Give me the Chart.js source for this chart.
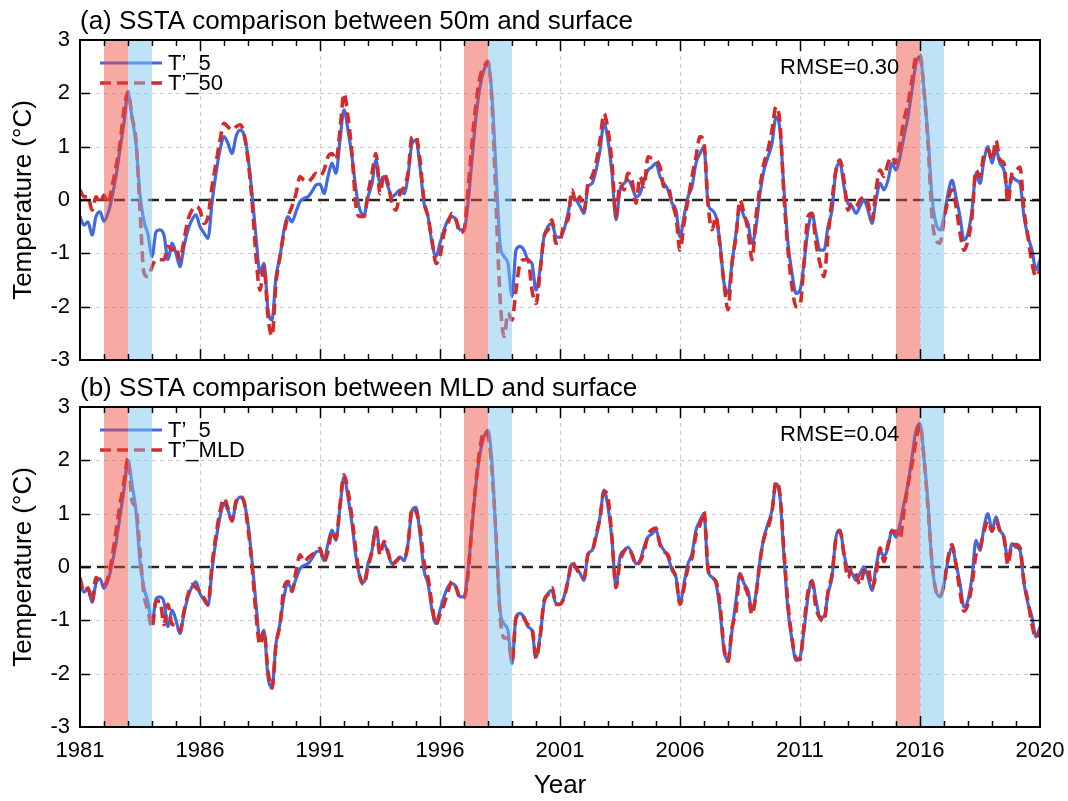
<!DOCTYPE html>
<html><head><meta charset="utf-8">
<script src="https://cdn.jsdelivr.net/npm/chart.js@4.4.0/dist/chart.umd.min.js"></script>
<style>
html,body{margin:0;padding:0;background:#fff;}
#wrap{position:relative;width:1068px;height:801px;overflow:hidden;background:#fff;}
.pane{position:absolute;left:0;width:1068px;}
</style></head><body>
<div id="wrap">
<div class="pane" style="top:0;height:375px"><canvas id="ca" width="1068" height="375"></canvas></div>
<div class="pane" style="top:375px;height:426px"><canvas id="cb" width="1068" height="426"></canvas></div>
</div>
<script>
// ---------------- data ----------------
const startYear = 1981;
const stepsPerYear = 6;           // bimonthly samples
const xMin = 1981, xMax = 2021;
const xTickValues = [1981, 1986, 1991, 1996, 2001, 2006, 2011, 2016, 2021];
const xTickLabels = ['1981', '1986', '1991', '1996', '2001', '2006', '2011', '2016', '2020'];
const yTickValues = [-3, -2, -1, 0, 1, 2, 3];
const yTickLabels = ['-3', '-2', '-1', '0', '1', '2', '3'];
const warmSpans = [[1982, 1983], [1997, 1998], [2015, 2016]];
const coolSpans = [[1983, 1984], [1998, 1999], [2016, 2017]];
const seriesLabels = ['T\u2019_5', 'T\u2019_50', 'T\u2019_MLD'];
const panelTitles = ['(a) SSTA comparison between 50m and surface', '(b) SSTA comparison between MLD and surface'];
const rmseTexts = ['RMSE=0.30', 'RMSE=0.04'];

const t5 = [
-0.31,-0.47,-0.41,-0.66,-0.31,-0.22,
-0.40,-0.25,0.05,0.45,0.95,1.45,
2.00,1.55,1.05,0.10,-0.40,-0.65,
-1.06,-0.60,-0.56,-0.66,-1.12,-0.81,
-1.00,-1.25,-0.87,-0.56,-0.37,-0.28,
-0.50,-0.62,-0.72,-0.06,0.50,0.94,
1.19,1.06,0.87,1.19,1.31,1.22,
0.81,0.12,-0.69,-1.37,-1.19,-2.06,
-2.25,-1.44,-1.06,-0.56,-0.31,-0.41,
-0.22,-0.03,0.03,0.06,0.16,0.28,
0.30,0.12,0.44,0.69,0.50,1.12,
1.69,1.31,0.81,0.19,-0.19,-0.28,
0.06,0.31,0.75,0.31,0.44,0.25,
0.06,0.12,0.19,0.12,0.44,1.06,
1.12,0.62,-0.06,-0.31,-0.81,-1.06,
-0.81,-0.56,-0.37,-0.31,-0.37,-0.56,
-0.56,-0.06,0.75,1.56,2.12,2.44,
2.56,1.94,0.56,-0.81,-1.06,-1.19,
-1.81,-0.94,-0.87,-0.94,-1.12,-1.19,
-1.69,-1.31,-0.69,-0.50,-0.44,-0.69,
-0.70,-0.56,-0.25,0.06,0.00,-0.12,
-0.25,0.25,0.31,0.56,0.94,1.44,
1.12,0.50,-0.37,0.19,0.31,0.37,
0.25,0.06,0.12,0.37,0.56,0.62,
0.69,0.44,0.31,0.19,-0.06,-0.19,
-0.69,-0.31,0.06,0.25,0.69,0.87,
1.00,-0.06,-0.19,-0.31,-0.81,-1.56,
-1.75,-1.19,-0.62,-0.12,-0.31,-0.44,
-0.81,-0.50,0.12,0.56,0.81,1.06,
1.56,1.31,0.19,-0.81,-1.37,-1.75,
-1.69,-1.19,-0.56,-0.25,-0.62,-0.94,
-0.94,-0.50,-0.19,0.56,0.69,0.25,
-0.06,-0.12,-0.25,-0.12,0.00,-0.19,
-0.44,0.00,0.31,0.19,0.37,0.69,
0.56,0.81,1.19,1.56,2.06,2.56,
2.69,2.06,1.19,0.06,-0.44,-0.56,
-0.31,0.12,0.37,0.06,-0.31,-0.75,
-0.62,-0.19,0.50,0.31,0.75,1.00,
0.69,0.94,0.69,0.56,0.12,0.44,
0.37,0.31,-0.31,-0.69,-0.94,-1.31,
-1.12
];

const t50 = [
0.19,0.06,0.06,-0.19,0.06,-0.06,
0.09,-0.06,0.25,0.62,1.06,1.69,
2.03,1.56,1.12,-0.19,-1.37,-1.44,
-1.25,-1.12,-1.12,-1.12,-0.87,-0.94,
-0.87,-1.12,-0.75,-0.37,-0.19,-0.12,
-0.19,-0.44,-0.31,0.25,0.69,1.12,
1.44,1.37,1.31,1.37,1.41,1.25,
0.75,0.00,-1.06,-1.69,-1.25,-2.19,
-2.55,-1.56,-1.06,-0.62,-0.31,-0.12,
0.12,0.44,0.37,0.34,0.41,0.50,
0.45,0.56,0.81,0.87,0.75,1.31,
2.00,1.56,0.87,-0.12,-0.31,-0.31,
0.12,0.50,0.87,0.12,0.50,0.31,
-0.06,-0.19,0.12,0.25,0.50,1.19,
1.19,0.75,0.00,-0.31,-0.75,-1.19,
-1.06,-0.62,-0.44,-0.25,-0.37,-0.62,
-0.56,0.19,1.06,1.81,2.31,2.50,
2.60,1.81,-0.06,-1.81,-2.56,-2.12,
-2.25,-1.69,-1.19,-1.12,-1.12,-1.69,
-1.94,-1.37,-0.69,-0.56,-0.37,-0.81,
-0.78,-0.44,-0.37,0.19,-0.06,0.06,
-0.19,0.31,0.44,0.69,1.12,1.62,
1.31,0.69,-0.31,0.31,0.19,0.50,
0.37,-0.06,0.44,0.25,0.81,0.78,
0.75,0.62,0.25,0.25,-0.06,-0.31,
-0.94,-0.44,0.00,0.44,0.81,1.19,
1.06,-0.06,-0.56,-0.31,-0.87,-1.56,
-2.06,-1.19,-0.69,0.00,-0.25,-0.56,
-1.12,-0.31,0.25,0.69,0.94,1.31,
1.75,1.44,0.06,-0.94,-1.62,-2.00,
-1.97,-1.19,-0.31,-0.25,-0.81,-1.19,
-1.44,-0.69,0.00,0.56,0.75,0.37,
-0.19,-0.06,-0.12,0.00,0.06,-0.06,
-0.37,0.19,0.56,0.44,0.69,0.81,
0.69,1.06,1.50,1.81,2.25,2.69,
2.72,2.06,1.06,-0.31,-0.75,-0.81,
-0.37,0.00,0.19,-0.12,-0.62,-0.94,
-0.75,-0.31,0.56,0.44,0.87,0.94,
0.75,1.12,0.75,0.69,-0.06,0.50,
0.56,0.62,-0.19,-0.69,-1.19,-1.44,
-1.31
];

const tMLD = [
-0.20,-0.46,-0.39,-0.64,-0.20,-0.27,
-0.33,-0.20,0.17,0.67,1.17,1.60,
2.04,1.23,1.10,0.30,-0.52,-0.83,
-1.14,-0.64,-0.64,-1.08,-0.70,-1.08,
-1.08,-1.20,-0.83,-0.52,-0.33,-0.39,
-0.46,-0.58,-0.70,0.04,0.60,1.04,
1.29,1.10,0.86,1.23,1.32,1.23,
0.73,0.04,-0.89,-1.46,-1.20,-1.96,
-2.27,-1.46,-1.08,-0.39,-0.27,-0.46,
-0.08,0.23,0.10,0.17,0.23,0.29,
0.35,0.10,0.29,0.67,0.54,1.17,
1.73,1.42,0.92,0.29,-0.20,-0.33,
0.00,0.29,0.73,0.23,0.48,0.29,
0.04,0.10,0.17,0.17,0.42,1.10,
1.04,0.73,0.10,-0.20,-0.70,-1.08,
-0.89,-0.70,-0.46,-0.27,-0.39,-0.58,
-0.58,-0.14,0.79,1.60,2.23,2.54,
2.48,1.79,0.60,-0.89,-1.33,-1.33,
-1.77,-0.96,-0.89,-0.96,-1.08,-1.14,
-1.71,-1.33,-0.64,-0.52,-0.39,-0.70,
-0.70,-0.58,-0.27,0.10,-0.02,-0.14,
-0.20,0.23,0.29,0.60,0.92,1.42,
1.29,0.54,-0.39,0.10,0.29,0.36,
0.23,0.04,0.10,0.29,0.60,0.70,
0.73,0.42,0.29,0.23,-0.02,-0.20,
-0.70,-0.39,-0.02,0.17,0.60,0.79,
1.04,-0.02,-0.20,-0.27,-0.70,-1.52,
-1.77,-1.14,-0.83,-0.14,-0.33,-0.52,
-0.89,-0.52,0.10,0.54,0.73,1.04,
1.60,1.36,0.29,-0.70,-1.33,-1.71,
-1.74,-1.08,-0.46,-0.27,-0.77,-0.96,
-1.02,-0.46,-0.14,0.54,0.67,0.23,
-0.20,-0.02,-0.14,-0.33,-0.08,-0.02,
-0.39,-0.14,0.36,0.10,0.42,0.67,
0.67,0.54,1.04,1.54,1.92,2.36,
2.67,2.04,1.10,0.10,-0.46,-0.55,
-0.33,0.17,0.42,0.04,-0.46,-0.83,
-0.70,-0.33,0.23,0.36,0.67,0.86,
0.67,0.86,0.67,0.54,0.04,0.42,
0.42,0.36,-0.27,-0.64,-1.08,-1.33,
-1.20
];

// ---------------- styling ----------------
const FONT = '"Liberation Sans", Arial, Helvetica, sans-serif';
const BLUE = '#4169e1';
const RED = '#d42a2a';
Chart.defaults.font.family = FONT;
Chart.defaults.color = '#000';

const toPoints = arr => arr.map((v, i) => ({ x: startYear + i / stepsPerYear, y: v }));

function strokeLine(ctx, x1, y1, x2, y2) {
  ctx.beginPath(); ctx.moveTo(x1, y1); ctx.lineTo(x2, y2); ctx.stroke();
}

function makeDecor(panelIndex) {
  return {
    id: 'panelDecor' + panelIndex,
    beforeDatasetsDraw(chart) {
      const { ctx, chartArea: a } = chart;
      const xs = chart.scales.x, ys = chart.scales.y;
      ctx.save();
      ctx.lineWidth = 1;
      ctx.strokeStyle = '#cccccc';
      ctx.setLineDash([4, 4]);
      xTickValues.forEach(v => {
        if (v <= xMin || v >= xMax) return;
        const px = Math.round(xs.getPixelForValue(v)) + 0.5;
        strokeLine(ctx, px, a.top, px, a.bottom);
      });
      yTickValues.forEach(v => {
        if (v <= ys.min || v >= ys.max || v === 0) return;
        const py = Math.round(ys.getPixelForValue(v)) + 0.5;
        strokeLine(ctx, a.left, py, a.right, py);
      });
      const y0 = ys.getPixelForValue(0);
      ctx.setLineDash([11, 6]);
      ctx.strokeStyle = '#9a9a9a';
      ctx.lineWidth = 3;
      strokeLine(ctx, a.left, y0, a.right, y0);
      ctx.strokeStyle = '#000';
      ctx.lineWidth = 1.4;
      strokeLine(ctx, a.left, y0, a.right, y0);
      ctx.restore();
    },
    afterDatasetsDraw(chart) {
      const { ctx, chartArea: a } = chart;
      const xs = chart.scales.x, ys = chart.scales.y;
      ctx.save();
      // legend (inside plot, top-left)
      chart.data.datasets.forEach((ds, i) => {
        const ly = a.top + 23 + i * 20;
        ctx.strokeStyle = ds.borderColor;
        ctx.lineWidth = ds.borderWidth;
        ctx.setLineDash(ds.borderDash || []);
        strokeLine(ctx, a.left + 20, ly, a.left + 82, ly);
        ctx.setLineDash([]);
        ctx.fillStyle = '#000';
        ctx.font = '22px ' + FONT;
        ctx.textAlign = 'left';
        ctx.textBaseline = 'middle';
        ctx.fillText(ds.label, a.left + 88, ly + 1);
      });
      // shaded event periods (semi-transparent, over the curves)
      const shade = (spans, color) => spans.forEach(([s, e]) => {
        const x1 = xs.getPixelForValue(s), x2 = xs.getPixelForValue(e);
        ctx.fillStyle = color;
        ctx.fillRect(x1, a.top, x2 - x1, a.bottom - a.top);
      });
      shade(warmSpans, 'rgba(238,75,65,0.48)');
      shade(coolSpans, 'rgba(130,198,240,0.5)');
      // frame
      ctx.setLineDash([]);
      ctx.strokeStyle = '#000';
      ctx.lineWidth = 2;
      ctx.strokeRect(a.left, a.top, a.right - a.left, a.bottom - a.top);
      // ticks (inward, mirrored)
      ctx.lineWidth = 1.5;
      for (let yr = xMin + 1; yr < xMax; yr++) {
        const px = Math.round(xs.getPixelForValue(yr)) + 0.5;
        const len = xTickValues.includes(yr) ? 11 : 6;
        strokeLine(ctx, px, a.bottom, px, a.bottom - len);
        strokeLine(ctx, px, a.top, px, a.top + len);
      }
      yTickValues.forEach(v => {
        if (v <= ys.min || v >= ys.max) return;
        const py = Math.round(ys.getPixelForValue(v)) + 0.5;
        strokeLine(ctx, a.left, py, a.left + 10, py);
        strokeLine(ctx, a.right, py, a.right - 10, py);
      });
      // title
      ctx.fillStyle = '#000';
      ctx.font = '26px ' + FONT;
      ctx.textAlign = 'left';
      ctx.textBaseline = 'middle';
      ctx.fillText(panelTitles[panelIndex], a.left, a.top - 18);
      // RMSE
      ctx.font = '22px ' + FONT;
      ctx.fillText(rmseTexts[panelIndex], a.left + 700, a.top + 28);
      ctx.restore();
    }
  };
}

function makeChart(canvasId, panelIndex, secondSeries, secondLabel, showX, pad) {
  const yScale = {
    type: 'linear', min: -3, max: 3,
    afterBuildTicks: s => { s.ticks = yTickValues.map(v => ({ value: v })); },
    afterFit: s => { s.width = 80; s.paddingTop = 0; s.paddingBottom = 0; },
    grid: { display: false, drawTicks: false },
    border: { display: false },
    ticks: {
      autoSkip: false, padding: 10, color: '#000',
      font: { size: 22, family: FONT },
      callback: (v, i) => yTickLabels[i]
    },
    title: {
      display: true, text: 'Temperature (\u00B0C)', color: '#000',
      font: { size: 26, family: FONT }, padding: { top: 8, bottom: 0 }
    }
  };
  const xScale = {
    type: 'linear', min: xMin, max: xMax, display: showX,
    afterBuildTicks: s => { s.ticks = xTickValues.map(v => ({ value: v })); },
    afterFit: s => { if (showX) s.height = 74; s.paddingLeft = 0; s.paddingRight = 0; },
    grid: { display: false, drawTicks: false },
    border: { display: false },
    ticks: {
      autoSkip: false, maxRotation: 0, padding: 11, color: '#000',
      font: { size: 22, family: FONT },
      callback: (v, i) => xTickLabels[i]
    },
    title: {
      display: showX, text: 'Year', color: '#000',
      font: { size: 26, family: FONT }, padding: { top: 0, bottom: 0 }
    }
  };
  return new Chart(document.getElementById(canvasId), {
    type: 'line',
    data: {
      datasets: [
        { label: seriesLabels[0], data: toPoints(t5), borderColor: BLUE, borderWidth: 3.2,
          pointRadius: 0, fill: false, cubicInterpolationMode: 'monotone', order: 2 },
        { label: secondLabel, data: toPoints(secondSeries), borderColor: RED, borderWidth: 3.6,
          borderDash: [11, 6], pointRadius: 0, fill: false, cubicInterpolationMode: 'monotone', order: 1 }
      ]
    },
    options: {
      responsive: false, animation: false, devicePixelRatio: 1,
      layout: { padding: pad },
      plugins: { legend: { display: false }, tooltip: { enabled: false }, title: { display: false } },
      events: [],
      scales: { x: xScale, y: yScale }
    },
    plugins: [makeDecor(panelIndex)]
  });
}

makeChart('ca', 0, t50, seriesLabels[1], false, { left: 0, right: 28, top: 40, bottom: 15 });
makeChart('cb', 1, tMLD, seriesLabels[2], true, { left: 0, right: 28, top: 32, bottom: 0 });
</script>
</body></html>
